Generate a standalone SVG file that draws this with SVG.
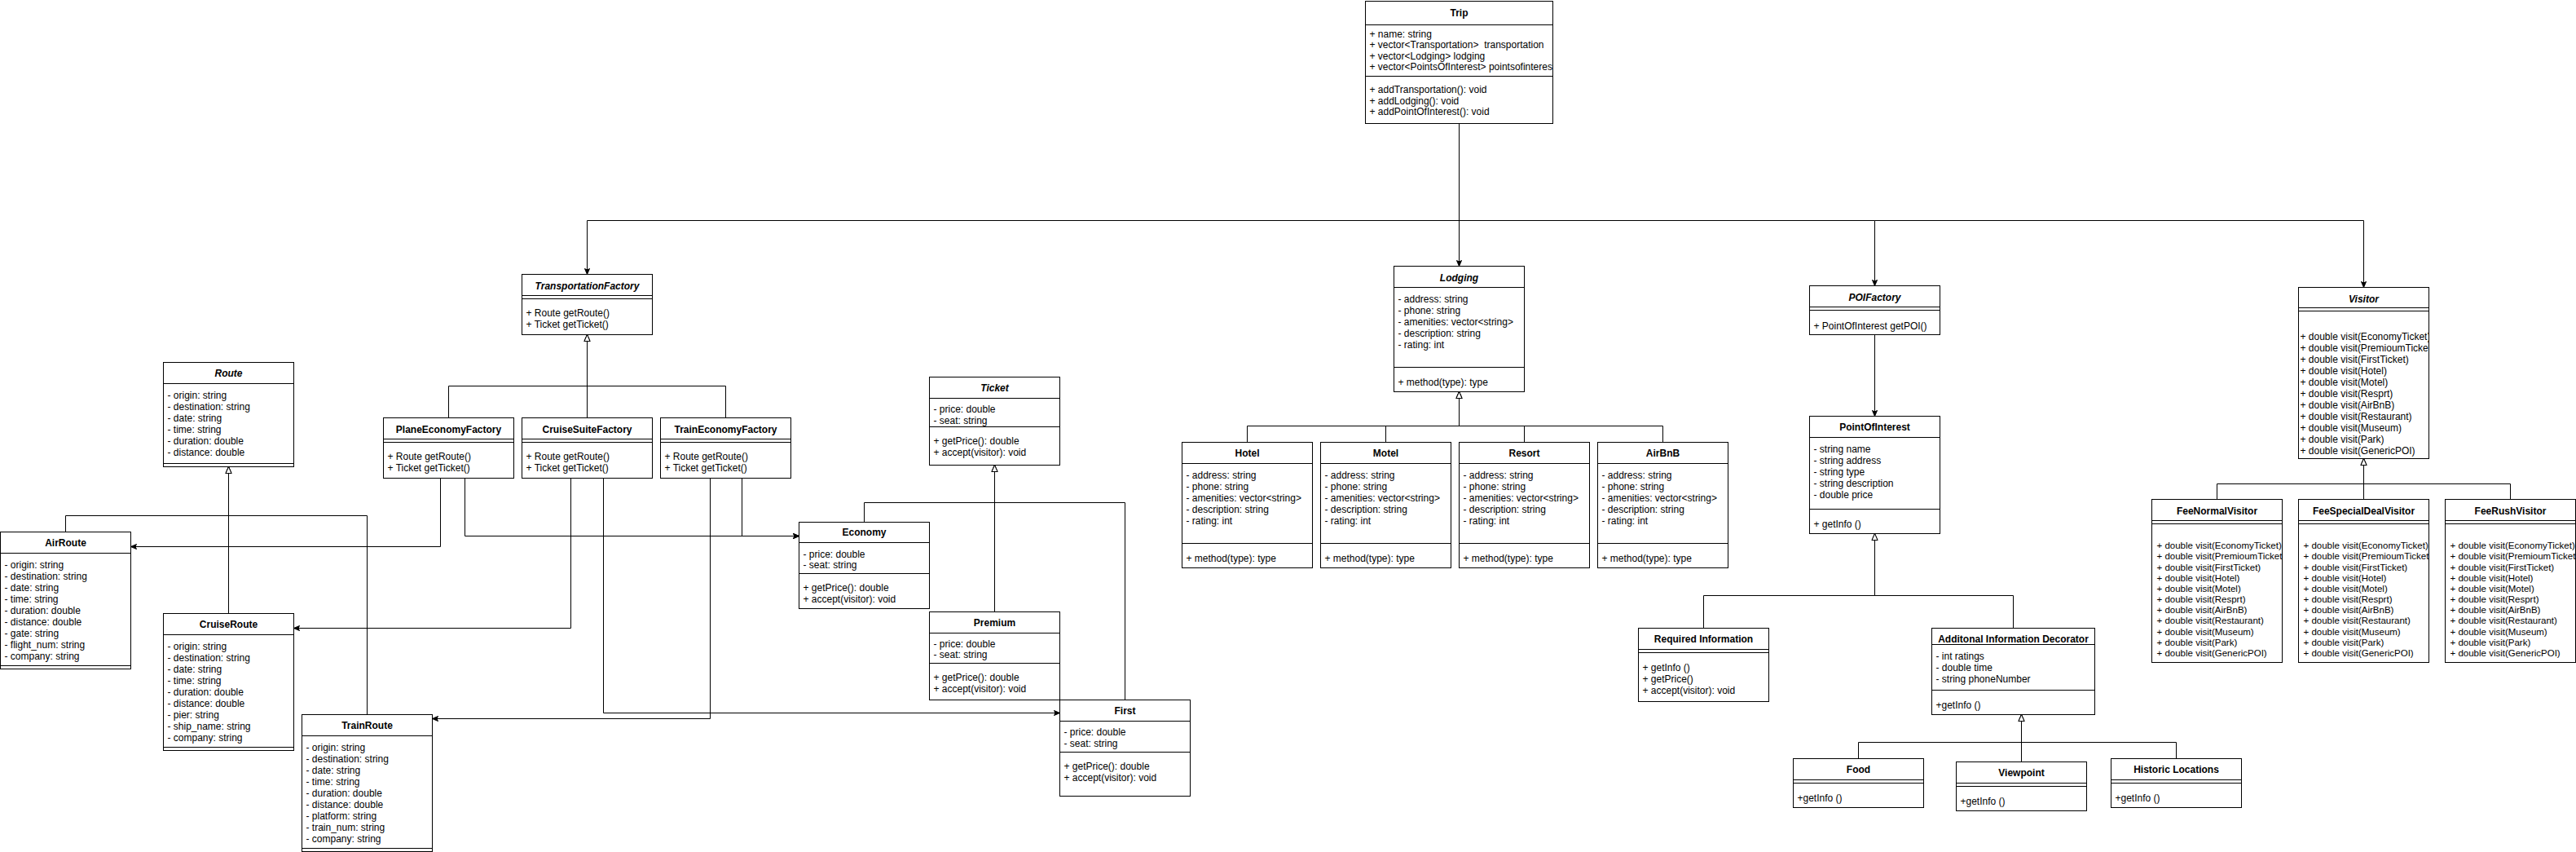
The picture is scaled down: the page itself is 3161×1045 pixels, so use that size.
<svg xmlns="http://www.w3.org/2000/svg" width="3161" height="1045" viewBox="0 0 3161 1045">
<style>
.bx{fill:#fff;stroke:#000;stroke-width:1}
.ln{fill:none;stroke:#000;stroke-width:1}
text{font-family:"Liberation Sans",Arial,sans-serif;font-size:12px;fill:#000;dominant-baseline:central}
.c{text-anchor:middle}
.b{font-weight:bold}
.i{font-style:italic}
.s{font-size:11.5px}
</style>
<defs>
<marker id="arr" markerUnits="userSpaceOnUse" markerWidth="10" markerHeight="10" viewBox="-9 -5 10 10" refX="0" refY="0" orient="auto" overflow="visible">
<path d="M0,0 L-7,-3 L-5.5,0 L-7,3 Z" fill="#000" stroke="#000" stroke-width="1"/>
</marker>
<marker id="inh" markerUnits="userSpaceOnUse" markerWidth="10" markerHeight="10" viewBox="-9 -5 10 10" refX="0" refY="0" orient="auto" overflow="visible">
<path d="M0,0 L-8,-3.5 L-8,3.5 Z" fill="#fff" stroke="#000" stroke-width="1"/>
</marker>
<clipPath id="cTrip"><rect x="1675" y="1" width="230" height="150"/></clipPath>
<clipPath id="cVis"><rect x="2820" y="352" width="160" height="210"/></clipPath>
<clipPath id="cF1"><rect x="2640" y="612" width="160" height="200"/></clipPath>
<clipPath id="cF2"><rect x="2820" y="612" width="160" height="200"/></clipPath>
<clipPath id="cF3"><rect x="3000" y="612" width="160" height="200"/></clipPath>
</defs>
<rect x="0" y="0" width="3161" height="1045" fill="#fff"/>
<g transform="translate(0.5 0.5)">
<g id="connectors" class="ln">
<path d="M1790 151V326" marker-end="url(#arr)"/>
<path d="M1790 151V270H720V336" marker-end="url(#arr)"/>
<path d="M1790 270H2300V350" marker-end="url(#arr)"/>
<path d="M2300 270H2900V352" marker-end="url(#arr)"/>
<path d="M550 512V473H720V410" marker-end="url(#inh)"/>
<path d="M720 512V410" marker-end="url(#inh)"/>
<path d="M890 512V473H720V410" marker-end="url(#inh)"/>
<path d="M80 652V632H280V572" marker-end="url(#inh)"/>
<path d="M280 752V572" marker-end="url(#inh)"/>
<path d="M450 876V632H280V572" marker-end="url(#inh)"/>
<path d="M540 586V670H160" marker-end="url(#arr)"/>
<path d="M570 586V657H980" marker-end="url(#arr)"/>
<path d="M700 586V770H360" marker-end="url(#arr)"/>
<path d="M740 586V874H1300" marker-end="url(#arr)"/>
<path d="M871 586V881H530" marker-end="url(#arr)"/>
<path d="M910 586V657H980" marker-end="url(#arr)"/>
<path d="M1060 640V616H1220V570" marker-end="url(#inh)"/>
<path d="M1220 750V570" marker-end="url(#inh)"/>
<path d="M1380 858V616H1220V570" marker-end="url(#inh)"/>
<path d="M1530 542V522H1790V480" marker-end="url(#inh)"/>
<path d="M1700 542V522H1790V480" marker-end="url(#inh)"/>
<path d="M1870 542V522H1790V480" marker-end="url(#inh)"/>
<path d="M2040 542V522H1790V480" marker-end="url(#inh)"/>
<path d="M2300 410V510" marker-end="url(#arr)"/>
<path d="M2090 770V730H2300V654" marker-end="url(#inh)"/>
<path d="M2470 770V730H2300V654" marker-end="url(#inh)"/>
<path d="M2280 930V910H2480V876" marker-end="url(#inh)"/>
<path d="M2480 934V876" marker-end="url(#inh)"/>
<path d="M2670 930V910H2480V876" marker-end="url(#inh)"/>
<path d="M2720 612V593H2900V562" marker-end="url(#inh)"/>
<path d="M2900 612V562" marker-end="url(#inh)"/>
<path d="M3080 612V593H2900V562" marker-end="url(#inh)"/>
</g>

<g id="Trip">
<rect class="bx" x="1675" y="1" width="230" height="150"/>
<path class="ln" d="M1675 30H1905M1675 93H1905"/>
<text class="c b" x="1790" y="15.5">Trip</text>
<g clip-path="url(#cTrip)">
<text x="1680" y="41">+ name: string</text>
<text x="1680" y="54.5">+ vector&lt;Transportation&gt;&#160; transportation</text>
<text x="1680" y="68">+ vector&lt;Lodging&gt; lodging</text>
<text x="1680" y="81.5">+ vector&lt;PointsOfInterest&gt; pointsofinterest</text>
<text x="1680" y="109.5">+ addTransportation(): void</text>
<text x="1680" y="123">+ addLodging(): void</text>
<text x="1680" y="136.5">+ addPointOfInterest(): void</text>
</g>
</g>

<g id="TransportationFactory">
<rect class="bx" x="640" y="336" width="160" height="74"/>
<path class="ln" d="M640 362H800M640 366H800"/>
<text class="c b i" x="720" y="350">TransportationFactory</text>
<text x="645" y="383.5">+ Route getRoute()</text>
<text x="645" y="397.5">+ Ticket getTicket()</text>
</g>

<g id="PlaneEconomyFactory">
<rect class="bx" x="470" y="512" width="160" height="74"/>
<path class="ln" d="M470 538H630M470 542H630"/>
<text class="c b" x="550" y="526">PlaneEconomyFactory</text>
<text x="475" y="559.5">+ Route getRoute()</text>
<text x="475" y="573.5">+ Ticket getTicket()</text>
</g>
<g id="CruiseSuiteFactory">
<rect class="bx" x="640" y="512" width="160" height="74"/>
<path class="ln" d="M640 538H800M640 542H800"/>
<text class="c b" x="720" y="526">CruiseSuiteFactory</text>
<text x="645" y="559.5">+ Route getRoute()</text>
<text x="645" y="573.5">+ Ticket getTicket()</text>
</g>
<g id="TrainEconomyFactory">
<rect class="bx" x="810" y="512" width="160" height="74"/>
<path class="ln" d="M810 538H970M810 542H970"/>
<text class="c b" x="890" y="526">TrainEconomyFactory</text>
<text x="815" y="559.5">+ Route getRoute()</text>
<text x="815" y="573.5">+ Ticket getTicket()</text>
</g>

<g id="Route">
<rect class="bx" x="200" y="444" width="160" height="128"/>
<path class="ln" d="M200 470H360M200 568H360"/>
<text class="c b i" x="280" y="457">Route</text>
<text x="205" y="484">- origin: string</text>
<text x="205" y="498">- destination: string</text>
<text x="205" y="512">- date: string</text>
<text x="205" y="526">- time: string</text>
<text x="205" y="540">- duration: double</text>
<text x="205" y="554">- distance: double</text>
</g>

<g id="AirRoute">
<rect class="bx" x="0" y="652" width="160" height="168"/>
<path class="ln" d="M0 678H160M0 816H160"/>
<text class="c b" x="80" y="665">AirRoute</text>
<text x="5" y="692">- origin: string</text>
<text x="5" y="706">- destination: string</text>
<text x="5" y="720">- date: string</text>
<text x="5" y="734">- time: string</text>
<text x="5" y="748">- duration: double</text>
<text x="5" y="762">- distance: double</text>
<text x="5" y="776">- gate: string</text>
<text x="5" y="790">- flight_num: string</text>
<text x="5" y="804">- company: string</text>
</g>

<g id="CruiseRoute">
<rect class="bx" x="200" y="752" width="160" height="168"/>
<path class="ln" d="M200 778H360M200 916H360"/>
<text class="c b" x="280" y="765">CruiseRoute</text>
<text x="205" y="792">- origin: string</text>
<text x="205" y="806">- destination: string</text>
<text x="205" y="820">- date: string</text>
<text x="205" y="834">- time: string</text>
<text x="205" y="848">- duration: double</text>
<text x="205" y="862">- distance: double</text>
<text x="205" y="876">- pier: string</text>
<text x="205" y="890">- ship_name: string</text>
<text x="205" y="904">- company: string</text>
</g>

<g id="TrainRoute">
<rect class="bx" x="370" y="876" width="160" height="168"/>
<path class="ln" d="M370 902H530M370 1040H530"/>
<text class="c b" x="450" y="889">TrainRoute</text>
<text x="375" y="916">- origin: string</text>
<text x="375" y="930">- destination: string</text>
<text x="375" y="944">- date: string</text>
<text x="375" y="958">- time: string</text>
<text x="375" y="972">- duration: double</text>
<text x="375" y="986">- distance: double</text>
<text x="375" y="1000">- platform: string</text>
<text x="375" y="1014">- train_num: string</text>
<text x="375" y="1028">- company: string</text>
</g>

<g id="Ticket">
<rect class="bx" x="1140" y="462" width="160" height="108"/>
<path class="ln" d="M1140 488H1300M1140 523H1300"/>
<text class="c b i" x="1220" y="475">Ticket</text>
<text x="1145" y="501.5">- price: double</text>
<text x="1145" y="515">- seat: string</text>
<text x="1145" y="540">+ getPrice(): double</text>
<text x="1145" y="554">+ accept(visitor): void</text>
</g>

<g id="Economy">
<rect class="bx" x="980" y="640" width="160" height="106"/>
<path class="ln" d="M980 665H1140M980 703H1140"/>
<text class="c b" x="1060" y="652.5">Economy</text>
<text x="985" y="679">- price: double</text>
<text x="985" y="692.5">- seat: string</text>
<text x="985" y="720">+ getPrice(): double</text>
<text x="985" y="734">+ accept(visitor): void</text>
</g>

<g id="Premium">
<rect class="bx" x="1140" y="750" width="160" height="108"/>
<path class="ln" d="M1140 776H1300M1140 813H1300"/>
<text class="c b" x="1220" y="763">Premium</text>
<text x="1145" y="789">- price: double</text>
<text x="1145" y="802.5">- seat: string</text>
<text x="1145" y="830">+ getPrice(): double</text>
<text x="1145" y="844">+ accept(visitor): void</text>
</g>

<g id="First">
<rect class="bx" x="1300" y="858" width="160" height="118"/>
<path class="ln" d="M1300 884H1460M1300 922H1460"/>
<text class="c b" x="1380" y="871.5">First</text>
<text x="1305" y="897.5">- price: double</text>
<text x="1305" y="911">- seat: string</text>
<text x="1305" y="939">+ getPrice(): double</text>
<text x="1305" y="953">+ accept(visitor): void</text>
</g>

<g id="Lodging">
<rect class="bx" x="1710" y="326" width="160" height="154"/>
<path class="ln" d="M1710 352H1870M1710 450H1870"/>
<text class="c b i" x="1790" y="340">Lodging</text>
<text x="1715" y="366">- address: string</text>
<text x="1715" y="380">- phone: string</text>
<text x="1715" y="394">- amenities: vector&lt;string&gt;</text>
<text x="1715" y="408">- description: string</text>
<text x="1715" y="422">- rating: int</text>
<text x="1715" y="468">+ method(type): type</text>
</g>

<g id="Hotel">
<rect class="bx" x="1450" y="542" width="160" height="154"/>
<path class="ln" d="M1450 568H1610M1450 666H1610"/>
<text class="c b" x="1530" y="555">Hotel</text>
<text x="1455" y="582">- address: string</text>
<text x="1455" y="596">- phone: string</text>
<text x="1455" y="610">- amenities: vector&lt;string&gt;</text>
<text x="1455" y="624">- description: string</text>
<text x="1455" y="638">- rating: int</text>
<text x="1455" y="684">+ method(type): type</text>
</g>
<g id="Motel">
<rect class="bx" x="1620" y="542" width="160" height="154"/>
<path class="ln" d="M1620 568H1780M1620 666H1780"/>
<text class="c b" x="1700" y="555">Motel</text>
<text x="1625" y="582">- address: string</text>
<text x="1625" y="596">- phone: string</text>
<text x="1625" y="610">- amenities: vector&lt;string&gt;</text>
<text x="1625" y="624">- description: string</text>
<text x="1625" y="638">- rating: int</text>
<text x="1625" y="684">+ method(type): type</text>
</g>
<g id="Resort">
<rect class="bx" x="1790" y="542" width="160" height="154"/>
<path class="ln" d="M1790 568H1950M1790 666H1950"/>
<text class="c b" x="1870" y="555">Resort</text>
<text x="1795" y="582">- address: string</text>
<text x="1795" y="596">- phone: string</text>
<text x="1795" y="610">- amenities: vector&lt;string&gt;</text>
<text x="1795" y="624">- description: string</text>
<text x="1795" y="638">- rating: int</text>
<text x="1795" y="684">+ method(type): type</text>
</g>
<g id="AirBnB">
<rect class="bx" x="1960" y="542" width="160" height="154"/>
<path class="ln" d="M1960 568H2120M1960 666H2120"/>
<text class="c b" x="2040" y="555">AirBnB</text>
<text x="1965" y="582">- address: string</text>
<text x="1965" y="596">- phone: string</text>
<text x="1965" y="610">- amenities: vector&lt;string&gt;</text>
<text x="1965" y="624">- description: string</text>
<text x="1965" y="638">- rating: int</text>
<text x="1965" y="684">+ method(type): type</text>
</g>

<g id="POIFactory">
<rect class="bx" x="2220" y="350" width="160" height="60"/>
<path class="ln" d="M2220 376H2380M2220 380H2380"/>
<text class="c b i" x="2300" y="364">POIFactory</text>
<text x="2225" y="399">+ PointOfInterest getPOI()</text>
</g>

<g id="PointOfInterest">
<rect class="bx" x="2220" y="510" width="160" height="144"/>
<path class="ln" d="M2220 536H2380M2220 624H2380"/>
<text class="c b" x="2300" y="523">PointOfInterest</text>
<text x="2225" y="550">- string name</text>
<text x="2225" y="564">- string address</text>
<text x="2225" y="578">- string type</text>
<text x="2225" y="592">- string description</text>
<text x="2225" y="606">- double price</text>
<text x="2225" y="642">+ getInfo ()</text>
</g>

<g id="RequiredInformation">
<rect class="bx" x="2010" y="770" width="160" height="90"/>
<path class="ln" d="M2010 796H2170M2010 800H2170"/>
<text class="c b" x="2090" y="783">Required Information</text>
<text x="2015" y="818">+ getInfo ()</text>
<text x="2015" y="832">+ getPrice()</text>
<text x="2015" y="846">+ accept(visitor): void</text>
</g>

<g id="AdditionalInformationDecorator">
<rect class="bx" x="2370" y="770" width="200" height="106"/>
<path class="ln" d="M2370 790H2570M2370 846H2570"/>
<text class="c b" x="2470" y="783.5">Additonal Information Decorator</text>
<text x="2375" y="804">- int ratings</text>
<text x="2375" y="818">- double time</text>
<text x="2375" y="832">- string phoneNumber</text>
<text x="2375" y="864">+getInfo ()</text>
</g>

<g id="Food">
<rect class="bx" x="2200" y="930" width="160" height="60"/>
<path class="ln" d="M2200 956H2360M2200 960H2360"/>
<text class="c b" x="2280" y="943.5">Food</text>
<text x="2205" y="978">+getInfo ()</text>
</g>
<g id="Viewpoint">
<rect class="bx" x="2400" y="934" width="160" height="60"/>
<path class="ln" d="M2400 960H2560M2400 964H2560"/>
<text class="c b" x="2480" y="947.5">Viewpoint</text>
<text x="2405" y="982">+getInfo ()</text>
</g>
<g id="HistoricLocations">
<rect class="bx" x="2590" y="930" width="160" height="60"/>
<path class="ln" d="M2590 956H2750M2590 960H2750"/>
<text class="c b" x="2670" y="943.5">Historic Locations</text>
<text x="2595" y="978">+getInfo ()</text>
</g>

<g id="Visitor">
<rect class="bx" x="2820" y="352" width="160" height="210"/>
<path class="ln" d="M2820 377H2980M2820 381H2980"/>
<text class="c b i" x="2900" y="366">Visitor</text>
<g clip-path="url(#cVis)">
<text x="2822" y="412.5">+ double visit(EconomyTicket)</text>
<text x="2822" y="426.5">+ double visit(PremioumTicket)</text>
<text x="2822" y="440.5">+ double visit(FirstTicket)</text>
<text x="2822" y="454.5">+ double visit(Hotel)</text>
<text x="2822" y="468">+ double visit(Motel)</text>
<text x="2822" y="482">+ double visit(Resprt)</text>
<text x="2822" y="496">+ double visit(AirBnB)</text>
<text x="2822" y="510">+ double visit(Restaurant)</text>
<text x="2822" y="524">+ double visit(Museum)</text>
<text x="2822" y="538">+ double visit(Park)</text>
<text x="2822" y="552">+ double visit(GenericPOI)</text>
</g>
</g>

<g id="FeeNormalVisitor">
<rect class="bx" x="2640" y="612" width="160" height="200"/>
<path class="ln" d="M2640 638H2800M2640 642H2800"/>
<text class="c b" x="2720" y="626">FeeNormalVisitor</text>
<g clip-path="url(#cF1)">
<text class="s" x="2646" y="668.5">+ double visit(EconomyTicket)</text>
<text class="s" x="2646" y="681.5">+ double visit(PremioumTicket)</text>
<text class="s" x="2646" y="695">+ double visit(FirstTicket)</text>
<text class="s" x="2646" y="708">+ double visit(Hotel)</text>
<text class="s" x="2646" y="721">+ double visit(Motel)</text>
<text class="s" x="2646" y="734.5">+ double visit(Resprt)</text>
<text class="s" x="2646" y="747.5">+ double visit(AirBnB)</text>
<text class="s" x="2646" y="760.5">+ double visit(Restaurant)</text>
<text class="s" x="2646" y="774">+ double visit(Museum)</text>
<text class="s" x="2646" y="787">+ double visit(Park)</text>
<text class="s" x="2646" y="800">+ double visit(GenericPOI)</text>
</g>
</g>
<g id="FeeSpecialDealVisitor">
<rect class="bx" x="2820" y="612" width="160" height="200"/>
<path class="ln" d="M2820 638H2980M2820 642H2980"/>
<text class="c b" x="2900" y="626">FeeSpecialDealVisitor</text>
<g clip-path="url(#cF2)">
<text class="s" x="2826" y="668.5">+ double visit(EconomyTicket)</text>
<text class="s" x="2826" y="681.5">+ double visit(PremioumTicket)</text>
<text class="s" x="2826" y="695">+ double visit(FirstTicket)</text>
<text class="s" x="2826" y="708">+ double visit(Hotel)</text>
<text class="s" x="2826" y="721">+ double visit(Motel)</text>
<text class="s" x="2826" y="734.5">+ double visit(Resprt)</text>
<text class="s" x="2826" y="747.5">+ double visit(AirBnB)</text>
<text class="s" x="2826" y="760.5">+ double visit(Restaurant)</text>
<text class="s" x="2826" y="774">+ double visit(Museum)</text>
<text class="s" x="2826" y="787">+ double visit(Park)</text>
<text class="s" x="2826" y="800">+ double visit(GenericPOI)</text>
</g>
</g>
<g id="FeeRushVisitor">
<rect class="bx" x="3000" y="612" width="160" height="200"/>
<path class="ln" d="M3000 638H3160M3000 642H3160"/>
<text class="c b" x="3080" y="626">FeeRushVisitor</text>
<g clip-path="url(#cF3)">
<text class="s" x="3006" y="668.5">+ double visit(EconomyTicket)</text>
<text class="s" x="3006" y="681.5">+ double visit(PremioumTicket)</text>
<text class="s" x="3006" y="695">+ double visit(FirstTicket)</text>
<text class="s" x="3006" y="708">+ double visit(Hotel)</text>
<text class="s" x="3006" y="721">+ double visit(Motel)</text>
<text class="s" x="3006" y="734.5">+ double visit(Resprt)</text>
<text class="s" x="3006" y="747.5">+ double visit(AirBnB)</text>
<text class="s" x="3006" y="760.5">+ double visit(Restaurant)</text>
<text class="s" x="3006" y="774">+ double visit(Museum)</text>
<text class="s" x="3006" y="787">+ double visit(Park)</text>
<text class="s" x="3006" y="800">+ double visit(GenericPOI)</text>
</g>
</g>
</g>
</svg>
